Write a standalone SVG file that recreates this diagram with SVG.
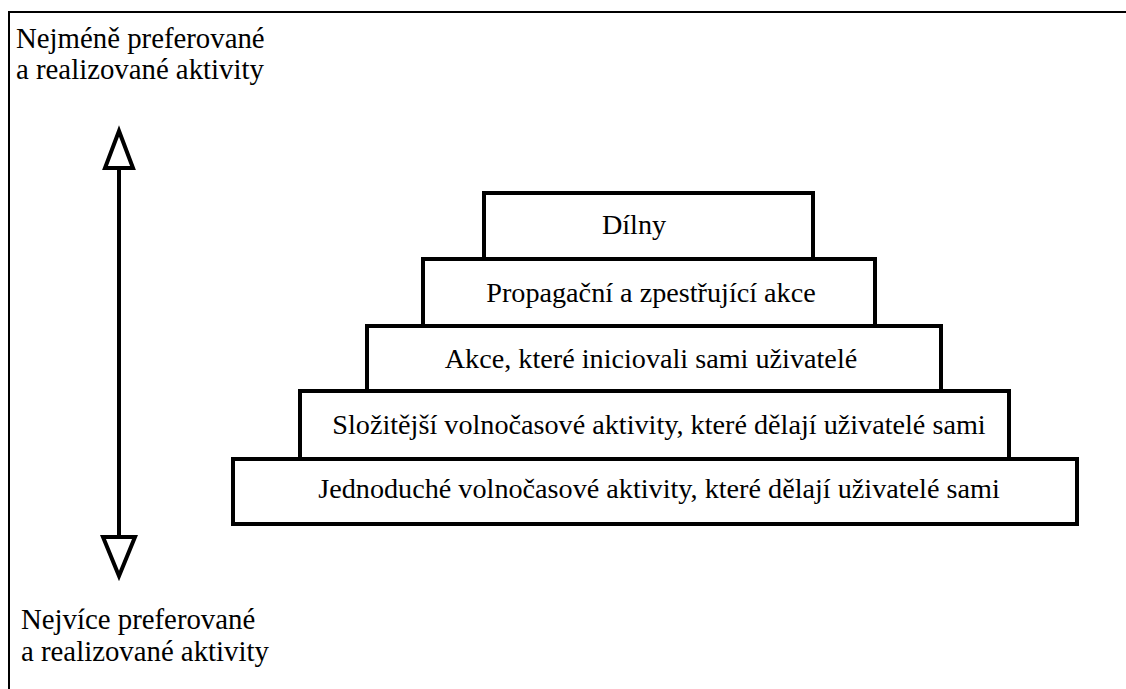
<svg xmlns="http://www.w3.org/2000/svg" width="1126" height="689" viewBox="0 0 1126 689">
<style>
.frame{fill:none;stroke:#000;stroke-width:2}
.box{fill:#fff;stroke:#000;stroke-width:4}
.t{font-family:"Liberation Serif","Times New Roman",serif;font-size:28.2px;fill:#000}
.lab{font-size:28.8px}
.c{text-anchor:middle}
.ln{stroke:#000;stroke-width:4;fill:none}
.ah{fill:#fff;stroke:#000;stroke-width:4;stroke-linejoin:miter}
</style>
<rect width="1126" height="689" fill="#fff"/>
<rect class="frame" x="9" y="12" width="1130" height="700"/>
<g id="label-top">
<text class="t lab" x="16" y="48">Nejméně preferované</text>
<text class="t lab" x="16" y="79">a realizované aktivity</text>
</g>
<g id="label-bottom">
<text class="t lab" x="21" y="629">Nejvíce preferované</text>
<text class="t lab" x="21" y="661">a realizované aktivity</text>
</g>
<g id="connectors">
<line class="ln" x1="119" y1="168" x2="119" y2="537"/>
<polygon class="ah" points="119,131 105,168 133,168"/>
<polygon class="ah" points="103,537 135,537 119,576"/>
</g>
<g id="box5">
<rect class="box" x="233" y="459" width="844" height="65"/>
<text class="t c" x="659" y="498">Jednoduché volnočasové aktivity, které dělají uživatelé sami</text>
</g>
<g id="box4">
<rect class="box" x="300" y="391" width="709" height="68"/>
<text class="t c" x="659" y="434">Složitější volnočasové aktivity, které dělají uživatelé sami</text>
</g>
<g id="box3">
<rect class="box" x="367" y="326" width="574" height="65"/>
<text class="t c" x="651" y="368">Akce, které iniciovali sami uživatelé</text>
</g>
<g id="box2">
<rect class="box" x="423" y="259" width="452" height="67"/>
<text class="t c" x="651" y="302">Propagační a zpestřující akce</text>
</g>
<g id="box1">
<rect class="box" x="484" y="193" width="329" height="66"/>
<text class="t c" x="634" y="234">Dílny</text>
</g>
</svg>
